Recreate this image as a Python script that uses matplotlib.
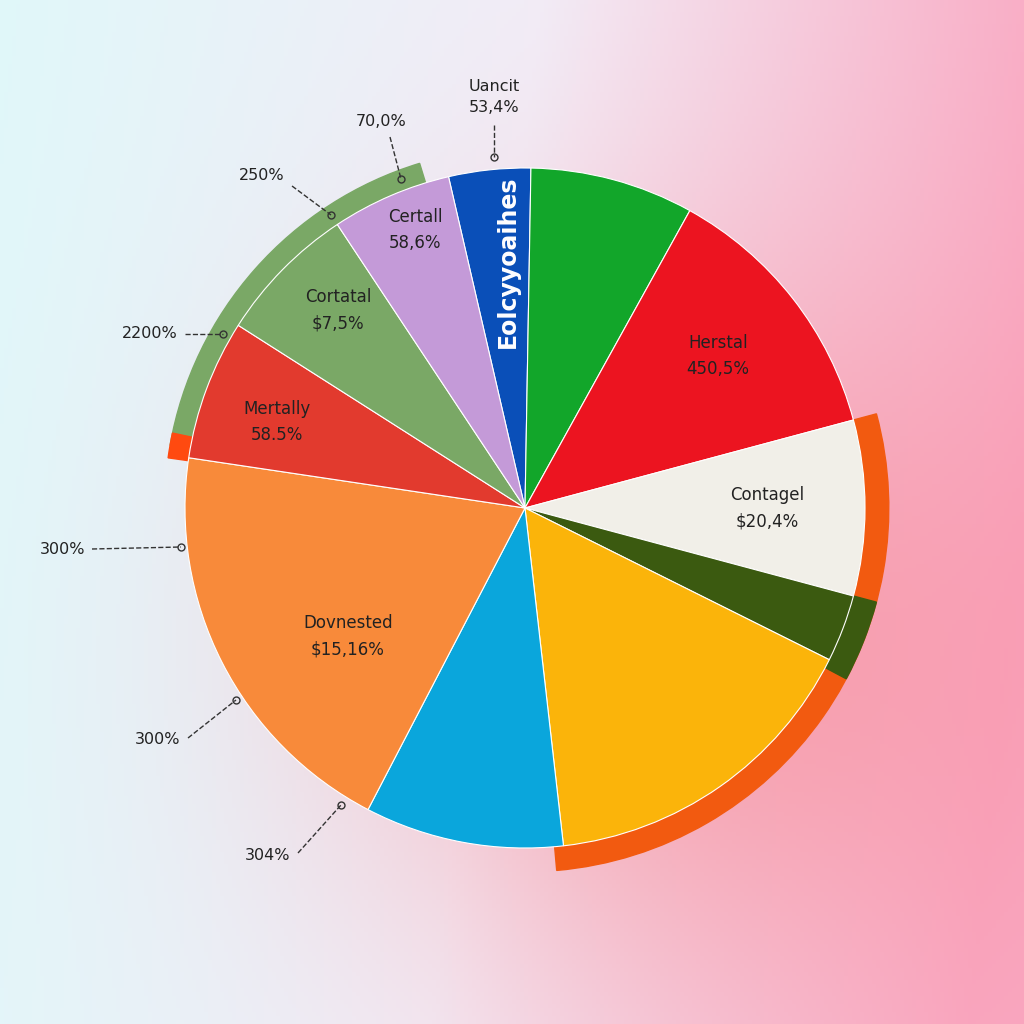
import numpy as np
import matplotlib.pyplot as plt
from matplotlib.patches import Wedge

# slices clockwise from the blue one at the top
values = [14, 28, 46, 30, 11.5, 57, 34, 71, 24, 24, 20.5]
colors = ['#0a4fb8', '#12a62a', '#ec1420', '#f1efe8', '#3b5a10', '#fbb40a',
          '#0aa6dc', '#f88a3a', '#e23a2e', '#7aa866', '#c49ad8']
slice_labels = [('Eolcyyoaihes', ''), ('', ''), ('Herstal', '450,5%'), ('Contagel', '$20,4%'),
                ('', ''), ('', ''), ('', ''), ('Dovnested', '$15,16%'), ('Mertally', '58.5%'),
                ('Cortatal', '$7,5%'), ('Certall', '58,6%')]
callouts = ['Uancit\n53,4%', '70,0%', '250%', '2200%', '300%', '300%', '304%']

W = 1024
cx, cy, R = 525, 508, 340.0


def px(x, y):
    return (x - cx) / R, (cy - y) / R


fig = plt.figure(figsize=(10.24, 10.24), dpi=100)
ax = fig.add_axes([0, 0, 1, 1])
x0, y1 = px(0, 0)
x1, y0 = px(W, W)

# background gradient
gx, gy = np.meshgrid(np.linspace(0, 1, 256), np.linspace(0, 1, 256))
left = np.array([0.88, 0.97, 0.98])
mid = np.array([0.95, 0.93, 0.97])
right = np.array([0.98, 0.66, 0.76])
t = np.clip(gx * 0.95 + gy * 0.1, 0, 1)[..., None]
img = np.where(t < 0.5, left * (1 - 2 * t) + mid * 2 * t, mid * (2 - 2 * t) + right * (2 * t - 1))
glow = np.exp(-(((gx - 0.66) / 0.33) ** 2 + ((gy - 0.62) / 0.33) ** 2))[..., None]
img = img * (1 - 0.45 * glow) + np.array([0.97, 0.42, 0.45]) * 0.45 * glow
ax.imshow(img, extent=[x0, x1, y0, y1], aspect='auto', zorder=0)

# outer rims
ax.add_patch(Wedge((0, 0), 1.06, 107, 170, width=0.06, color='#7aa866', zorder=1))
ax.add_patch(Wedge((0, 0), 1.06, 168, 172, width=0.06, color='#ff4a10', zorder=1))
ax.add_patch(Wedge((0, 0), 1.07, -85, 15, width=0.07, color='#f25a10', zorder=1))
ax.add_patch(Wedge((0, 0), 1.07, -28, -15, width=0.07, color='#3b5a10', zorder=1))

wedges, _ = ax.pie(values, colors=colors, startangle=103, counterclock=False,
                   radius=1.0, wedgeprops=dict(edgecolor='white', linewidth=0.8),
                   center=(0, 0), frame=True)
for w in wedges:
    w.set_zorder(2)
ax.set_xlim(x0, x1)
ax.set_ylim(y0, y1)
ax.set_aspect('auto')
ax.axis('off')

lab_pos = [(508, 262), None, (718, 356), (767, 508), None, None, None, (348, 636),
           (277, 422), (338, 310), (415, 230)]
for (name, val), pos in zip(slice_labels, lab_pos):
    if pos is None:
        continue
    if val == '':
        ax.text(*px(*pos), name, rotation=90, color='white', fontsize=17, fontweight='bold',
                ha='center', va='center', zorder=3)
    else:
        ax.text(*px(*pos), name + '\n' + val, color='#222222', fontsize=12,
                ha='center', va='center', linespacing=1.6, zorder=3)

call_pos = [(494, 97), (381, 122), (262, 176), (150, 334), (63, 550), (158, 739), (268, 856)]
line_ends = [((494, 125), (494, 157)), ((390, 137), (401, 179)), ((292, 186), (331, 215)),
             ((185, 334), (223, 334)), ((92, 549), (181, 547)), ((188, 738), (236, 700)),
             ((298, 853), (341, 805))]
for txt, pos, (a, b) in zip(callouts, call_pos, line_ends):
    ax.text(*px(*pos), txt, fontsize=11.5, color='#222222', ha='center', va='center',
            linespacing=1.5, zorder=4)
    (ax_, ay_), (bx_, by_) = px(*a), px(*b)
    ax.plot([ax_, bx_], [ay_, by_], ls='--', color='#333333', lw=1, zorder=4)
    ax.plot(bx_, by_, 'o', mfc='none', mec='#333333', ms=5, zorder=4)

fig.savefig('out.png', dpi=100)
